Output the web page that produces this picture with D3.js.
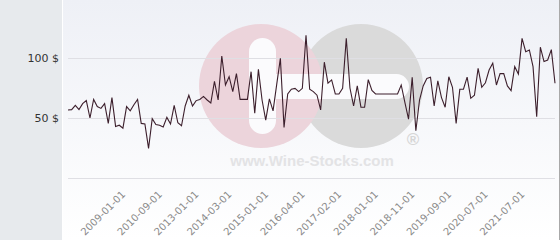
<!DOCTYPE html>
<html>
<head>
<meta charset="utf-8">
<script src="https://cdn.jsdelivr.net/npm/d3@7"></script>
<style>
  html, body { margin: 0; padding: 0; background: #fff; }
  svg { display: block; }
</style>
</head>
<body>
<div id="chart"></div>
<script>
// Price per point (USD)
var prices = [
  56.7, 57, 60.5, 57, 62, 64.5, 50, 65.5, 59.5, 58,
  62, 45.5, 67, 43, 44, 41.5, 59.5, 56, 61, 65.5,
  45.5, 45, 24.7, 49.5, 44.5, 44, 42.5, 50.5, 45, 60.5,
  46, 43.5, 60, 69, 60, 64.5, 65.5, 68, 65, 62.5,
  80.5, 65, 101.7, 77.5, 84.4, 72, 87, 65.5, 65.5, 65.5,
  88.6, 54, 90.5, 65, 48.3, 66, 56, 78, 99.7, 42.2,
  70, 74, 74.7, 72, 74.7, 119, 74, 72, 69, 56.7,
  96.5, 79, 81.7, 70, 70, 74.7, 116.4, 75, 60, 76.7,
  59, 59, 82, 73, 70, 70, 70, 70, 70, 70,
  70, 77.5, 63, 49, 84, 39.4, 65, 76.7, 83, 84,
  60, 81, 67, 59, 84.4, 75.6, 45.5, 73.9, 74, 84,
  66.4, 69, 91.4, 75.6, 79.4, 90, 95.6, 77.5, 87, 87,
  76.7, 72.8, 92.8, 86.7, 116.4, 105.3, 106.7, 92.8, 51, 109,
  97, 98.3, 107, 79
];

// Dates shown on the x axis and the point each one sits under
var dateLabels = ["2009-01-01", "2010-09-01", "2013-01-01", "2014-03-01", "2015-01-01", "2016-04-01",
                  "2017-02-01", "2018-01-01", "2018-11-01", "2019-09-01", "2020-07-01", "2021-07-01"];
var dateIndex = [16, 26, 36, 45, 55, 65, 75, 85, 95, 105, 115, 125];

// y ticks
var yTicks = [0, 50, 100];

var attrs = {
  svgWidth: 560,
  svgHeight: 240,
  panelWidth: 62,
  plotLeft: 68,
  plotRight: 555,
  zeroY: 178,
  hundredY: 58,
  lineColor: '#3c1f2c',
  gridColor: '#dfdfe4',
  font: 'DejaVu Sans'
};

var svg = d3.select('#chart').append('svg')
  .attr('width', attrs.svgWidth)
  .attr('height', attrs.svgHeight)
  .attr('font-family', attrs.font);

//Gradient for plot background
var grad = svg.append('defs').append('linearGradient')
  .attr('id', 'bg-grad')
  .attr('x1', 0).attr('y1', 0).attr('x2', 0).attr('y2', 1);
grad.append('stop').attr('offset', '0%').attr('stop-color', '#eef0f6');
grad.append('stop').attr('offset', '100%').attr('stop-color', '#ffffff');

svg.append('rect')
  .attr('x', attrs.panelWidth + 1).attr('y', 0)
  .attr('width', attrs.svgWidth - attrs.panelWidth - 2).attr('height', attrs.svgHeight)
  .attr('fill', 'url(#bg-grad)');

//Left grey panel
svg.append('rect')
  .attr('x', 0).attr('y', 0)
  .attr('width', attrs.panelWidth).attr('height', attrs.svgHeight)
  .attr('fill', '#e7eaed');

//Right border
svg.append('line')
  .attr('x1', attrs.svgWidth - 0.5).attr('x2', attrs.svgWidth - 0.5)
  .attr('y1', 0).attr('y2', attrs.svgHeight)
  .attr('stroke', '#a9a9a9');

// Scales
var x = d3.scalePoint()
  .domain(d3.range(prices.length))
  .range([attrs.plotLeft, attrs.plotRight]);

var y = d3.scaleLinear()
  .domain([0, 100])
  .range([attrs.zeroY, attrs.hundredY]);

//Watermark
var wm = svg.append('g').attr('class', 'watermark');
wm.append('circle').attr('cx', 361).attr('cy', 86).attr('r', 62).attr('fill', '#dadada');
wm.append('circle').attr('cx', 261).attr('cy', 86).attr('r', 62).attr('fill', '#ecd4db');
wm.append('rect').attr('x', 262).attr('y', 74).attr('width', 147).attr('height', 25).attr('rx', 12.5)
  .attr('fill', '#fbfbfd');
wm.append('rect').attr('x', 249).attr('y', 38).attr('width', 27).attr('height', 96).attr('rx', 13.5)
  .attr('fill', '#fbfbfd');
wm.append('text').attr('x', 413).attr('y', 145).attr('text-anchor', 'middle')
  .attr('font-family', 'Liberation Sans').attr('font-weight', 'bold').attr('font-size', 17)
  .attr('fill', '#d6d6d6').text('®');
wm.append('text').attr('x', 312).attr('y', 166).attr('text-anchor', 'middle')
  .attr('font-family', 'Liberation Sans').attr('font-weight', 'bold').attr('font-size', 15)
  .attr('fill', '#e3e3e5').text('www.Wine-Stocks.com');

//Y axis with grid
var yAxis = svg.append('g')
  .attr('transform', 'translate(' + attrs.plotLeft + ',0)')
  .call(d3.axisLeft(y)
    .tickValues(yTicks)
    .tickSize(-(attrs.plotRight - attrs.plotLeft))
    .tickPadding(9)
    .tickFormat(function(d) { return d === 0 ? '' : d + ' $'; }));
yAxis.select('.domain').remove();
yAxis.selectAll('.tick line').attr('stroke', attrs.gridColor);
yAxis.selectAll('.tick text')
  .attr('fill', '#333')
  .attr('font-size', 11)
  .attr('font-family', attrs.font);

//X axis labels
var xAxis = svg.append('g')
  .attr('transform', 'translate(0,' + attrs.zeroY + ')')
  .call(d3.axisBottom(x)
    .tickValues(dateIndex)
    .tickSize(0)
    .tickFormat(function(d, i) { return dateLabels[i]; }));
xAxis.select('.domain').remove();
xAxis.selectAll('.tick text')
  .attr('y', 0).attr('dy', 0)
  .attr('transform', 'translate(-1,17) rotate(-45)')
  .style('text-anchor', 'end')
  .attr('fill', '#8a8a8a')
  .attr('font-size', 10)
  .attr('font-family', attrs.font);

//Price line
var line = d3.line()
  .x(function(d, i) { return x(i); })
  .y(function(d) { return y(d); });

svg.append('path')
  .datum(prices)
  .attr('d', line)
  .attr('fill', 'none')
  .attr('stroke', attrs.lineColor)
  .attr('stroke-width', 1.1)
  .attr('stroke-linejoin', 'miter');
</script>
</body>
</html>
